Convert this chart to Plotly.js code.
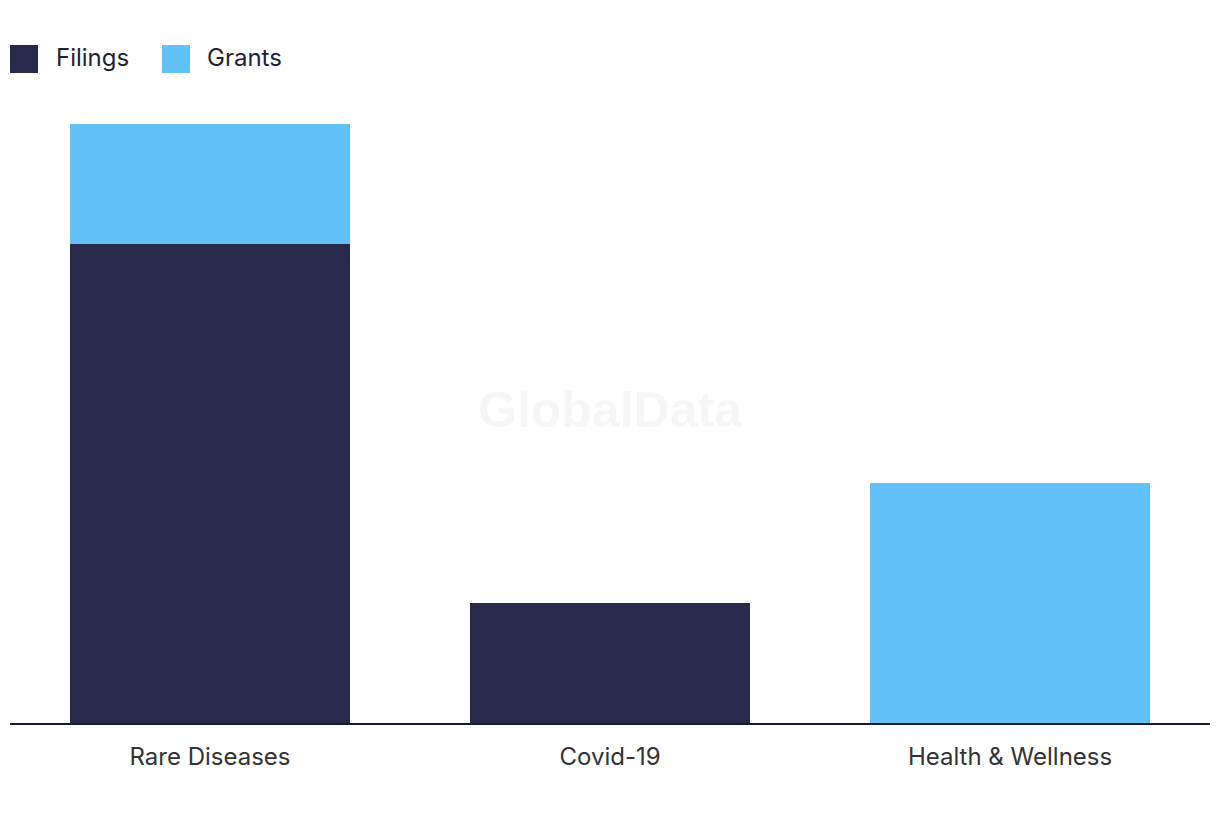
<!DOCTYPE html>
<html>
<head>
<meta charset="utf-8">
<script src="https://cdn.plot.ly/plotly-3.0.1.min.js"></script>
<style>html,body{margin:0;padding:0;background:#fff;}#chart{width:1220px;height:820px;}</style>
</head>
<body>
<div id="chart"></div>
<script>
const categories = ["Rare Diseases", "Covid-19", "Health & Wellness"];
const filings = [4, 1, 0];
const grants = [1, 0, 2];
const seriesNames = ["Filings", "Grants"];
const colors = ["#29294b", "#62c1f9"];

const W = 1220, H = 820;
const M = {l: 10, r: 10, t: 124, b: 97};
const pw = W - M.l - M.r, ph = H - M.t - M.b;
const px = x => (x - M.l) / pw;
const py = y => (H - M.b - y) / ph;

const traces = [
  {type: "bar", name: seriesNames[0], x: categories, y: filings, marker: {color: colors[0]}, hoverinfo: "x+y+name"},
  {type: "bar", name: seriesNames[1], x: categories, y: grants, marker: {color: colors[1]}, hoverinfo: "x+y+name"}
];

const legendItems = [
  {sx: 10, tx: 54, name: seriesNames[0], color: colors[0]},
  {sx: 162, tx: 205, name: seriesNames[1], color: colors[1]}
];
const shapes = legendItems.map(it => ({
  type: "rect", xref: "paper", yref: "paper",
  x0: px(it.sx), x1: px(it.sx + 28), y0: py(73), y1: py(45),
  fillcolor: it.color, line: {width: 0}
}));
const annotations = legendItems.map(it => ({
  xref: "paper", yref: "paper", x: px(it.tx), y: py(57), xanchor: "left", yanchor: "middle",
  text: it.name, showarrow: false, font: {family: "Inter, Roboto, sans-serif", size: 24, color: "#1f1f33"}
}));
annotations.push({
  xref: "paper", yref: "paper", x: px(610), y: py(410), xanchor: "center", yanchor: "middle",
  text: "<b>GlobalData</b>", showarrow: false,
  font: {family: "Liberation Sans, Arial, sans-serif", size: 50, color: "rgba(0,0,0,0.035)"}
});

const layout = {
  width: W, height: H,
  margin: M,
  barmode: "stack",
  bargap: 0.3,
  showlegend: false,
  paper_bgcolor: "#fff",
  plot_bgcolor: "#fff",
  xaxis: {
    showline: true, linecolor: "#1a1a2e", linewidth: 2,
    ticks: "", showgrid: false, zeroline: false,
    tickfont: {family: "Inter, Roboto, sans-serif", size: 24, color: "#333"},
    ticklabelstandoff: 11
  },
  yaxis: {
    range: [0, 5], showticklabels: false, showgrid: false, zeroline: false, showline: false, ticks: ""
  },
  shapes: shapes,
  annotations: annotations
};

Plotly.newPlot("chart", traces, layout, {displayModeBar: false});
</script>
</body>
</html>
